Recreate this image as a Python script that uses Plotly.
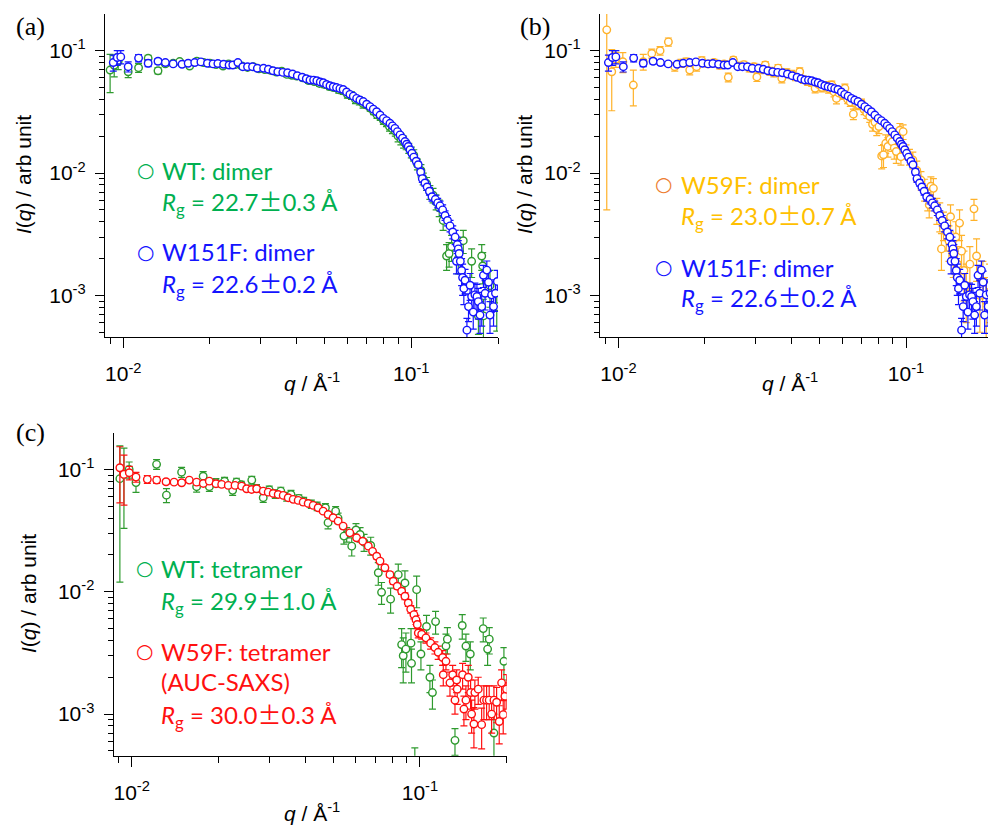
import math
import plotly.graph_objects as go

# ---------------- data ----------------
# (a)/(b) W151F dimer (blue)
q_w151f = [0.00923, 0.00953, 0.00980, 0.0104, 0.0113, 0.0122, 0.0132, 0.0140, 0.0149, 0.0160,
           0.0168, 0.0177, 0.0186, 0.0196, 0.0205, 0.0213, 0.0223, 0.0233, 0.0240, 0.0250,
           0.0260, 0.0270, 0.0281, 0.0292, 0.0307, 0.0319, 0.0331, 0.0344, 0.0358, 0.0372,
           0.0387, 0.0402, 0.0418, 0.0432, 0.0445, 0.0458, 0.0470, 0.0483, 0.0495, 0.0508,
           0.0522, 0.0536, 0.0550, 0.0565, 0.0580, 0.0596, 0.0612, 0.0629, 0.0646, 0.0663,
           0.0681, 0.0700, 0.0719, 0.0738, 0.0758, 0.0779, 0.0800, 0.0821, 0.0843, 0.0860,
           0.0877, 0.0895, 0.0914, 0.0932, 0.0951, 0.0964, 0.0976, 0.0990, 0.1005, 0.1020,
           0.1040, 0.1057, 0.1078, 0.1092, 0.1115, 0.1135, 0.1156, 0.1180, 0.1212, 0.1235,
           0.1258, 0.1285, 0.1310, 0.1336, 0.1363, 0.1393, 0.1420, 0.1435, 0.1445, 0.1456,
           0.1466, 0.1480, 0.1495, 0.1507, 0.1522, 0.1537, 0.1560, 0.1580, 0.1600, 0.1620,
           0.1641, 0.1663, 0.1690, 0.1708, 0.1732, 0.1756, 0.1780, 0.1804, 0.1829, 0.1854,
           0.1876, 0.1900, 0.1930, 0.1960, 0.1990]
I_w151f = [0.080, 0.088, 0.089, 0.074, 0.087, 0.079, 0.082, 0.080, 0.078, 0.0775,
           0.079, 0.080, 0.081, 0.079, 0.078, 0.0785, 0.0775, 0.0764, 0.0764, 0.080,
           0.074, 0.074, 0.074, 0.0718, 0.0718, 0.0705, 0.0686, 0.0673, 0.0665, 0.066,
           0.0645, 0.0625, 0.0607, 0.0590, 0.0576, 0.0575, 0.0568, 0.0555, 0.0547, 0.0530,
           0.0517, 0.0508, 0.0500, 0.0490, 0.0482, 0.0460, 0.0440, 0.0425, 0.0408, 0.0395,
           0.0384, 0.0365, 0.0349, 0.0333, 0.0317, 0.0298, 0.0280, 0.0268, 0.0255, 0.0243,
           0.0232, 0.0218, 0.0205, 0.0193, 0.0181, 0.0172, 0.0165, 0.0155, 0.0145, 0.0135,
           0.0125, 0.0117, 0.0102, 0.0090, 0.0083, 0.0077, 0.0071, 0.0064, 0.0061, 0.0057,
           0.0054, 0.0050, 0.0045, 0.0041, 0.0037, 0.0033, 0.0030, 0.0019, 0.0026, 0.0024,
           0.0022, 0.0019, 0.0016, 0.0014, 0.00114, 0.00133, 0.00052, 0.00081, 0.00121, 0.00098,
           0.00073, 0.00101, 0.00098, 0.00089, 0.00069, 0.00081, 0.00146, 0.00104, 0.00161, 0.00128,
           0.00069, 0.00101, 0.00081, 0.00104, 0.00130]
e_w151f = [0.012, 0.012, 0.011, 0.007, 0.006, 0.005, 0.004, 0.003, 0.003, 0.002,
           0.002, 0.002, 0.002, 0.002, 0.002, 0.002, 0.002, 0.002, 0.002, 0.002,
           0.002, 0.002, 0.002, 0.002, 0.002, 0.002, 0.002, 0.002, 0.002, 0.002,
           0.0015, 0.0015, 0.0015, 0.0015, 0.0015, 0.0015, 0.0015, 0.0015, 0.0015, 0.0015,
           0.0015, 0.0015, 0.0015, 0.0015, 0.0015, 0.0015, 0.0015, 0.0012, 0.0012, 0.0012,
           0.0012, 0.0012, 0.0012, 0.0012, 0.0012, 0.0010, 0.0010, 0.0010, 0.0010, 0.0010,
           0.0010, 0.0010, 0.0008, 0.0008, 0.0008, 0.0008, 0.0008, 0.0007, 0.0007, 0.0007,
           0.0007, 0.0006, 0.0006, 0.0006, 0.0005, 0.0005, 0.0005, 0.0005, 0.0005, 0.0005,
           0.0005, 0.0005, 0.0004, 0.0004, 0.0004, 0.0004, 0.0004, 0.0004, 0.0004, 0.0004,
           0.0004, 0.0004, 0.0004, 0.0004, 0.0003, 0.0003, 0.00013, 0.0002, 0.0003, 0.00025,
           0.0002, 0.00025, 0.00025, 0.00025, 0.0002, 0.00025, 0.0003, 0.00028, 0.0003, 0.0003,
           0.0002, 0.00028, 0.00025, 0.0003, 0.0003]

# (a) WT dimer (green)
q_wt_dimer = [0.0090, 0.0093, 0.0096, 0.0104, 0.0113, 0.0122, 0.0132, 0.0140, 0.0149, 0.0157,
              0.0170, 0.0180, 0.0190, 0.0200, 0.0210, 0.0222, 0.0232, 0.0245, 0.0258, 0.0270,
              0.0283, 0.0296, 0.0310, 0.0325, 0.0340, 0.0355, 0.0370, 0.0385, 0.0400, 0.0420,
              0.0440, 0.0460, 0.0480, 0.0500, 0.0520, 0.0540, 0.0560, 0.0580, 0.0600, 0.0620,
              0.0640, 0.0660, 0.0680, 0.0700, 0.0720, 0.0740, 0.0760, 0.0780, 0.0800, 0.0820,
              0.0840, 0.0860, 0.0880, 0.0900, 0.0920, 0.0940, 0.0960, 0.0980, 0.1000, 0.1020,
              0.1050, 0.1080, 0.1100, 0.1130, 0.1160, 0.1190, 0.1220, 0.1250, 0.1290, 0.1326,
              0.1353, 0.1380, 0.1456, 0.1515, 0.1620, 0.1710, 0.1756, 0.1770, 0.1780, 0.1876,
              0.1980]
I_wt_dimer = [0.0695, 0.076, 0.082, 0.0673, 0.0726, 0.0867, 0.0686, 0.078, 0.079, 0.0815,
              0.075, 0.082, 0.080, 0.079, 0.077, 0.075, 0.078, 0.077, 0.075, 0.073,
              0.074, 0.071, 0.070, 0.069, 0.067, 0.068, 0.064, 0.063, 0.062, 0.060,
              0.057, 0.056, 0.054, 0.053, 0.051, 0.050, 0.048, 0.047, 0.044, 0.043,
              0.040, 0.039, 0.037, 0.036, 0.034, 0.032, 0.030, 0.029, 0.027, 0.026,
              0.024, 0.023, 0.022, 0.020, 0.019, 0.018, 0.017, 0.016, 0.0148, 0.0140,
              0.0118, 0.0105, 0.0090, 0.0082, 0.0070, 0.0066, 0.0058, 0.0052, 0.0041, 0.0021,
              0.0022, 0.0025, 0.0020, 0.0028, 0.0019, 0.00068, 0.0021, 0.00174, 0.00068, 0.0012,
              0.00081]
e_wt_dimer = [0.024, 0.015, 0.012, 0.007, 0.006, 0.005, 0.004, 0.003, 0.003, 0.003,
              0.003, 0.003, 0.003, 0.003, 0.003, 0.003, 0.003, 0.003, 0.003, 0.003,
              0.003, 0.003, 0.003, 0.003, 0.003, 0.003, 0.003, 0.003, 0.003, 0.003,
              0.003, 0.003, 0.003, 0.003, 0.003, 0.003, 0.003, 0.003, 0.003, 0.003,
              0.003, 0.003, 0.003, 0.002, 0.002, 0.002, 0.002, 0.002, 0.002, 0.002,
              0.002, 0.002, 0.002, 0.002, 0.002, 0.002, 0.0015, 0.0015, 0.0015, 0.0015,
              0.0012, 0.0012, 0.0010, 0.0010, 0.0009, 0.0009, 0.0008, 0.0008, 0.0007, 0.0005,
              0.0005, 0.0006, 0.0005, 0.0006, 0.0005, 0.0002, 0.0005, 0.0005, 0.00025, 0.0004,
              0.0003]

# (b) W59F dimer (orange)
q_w59f_dimer = [0.00911, 0.00948, 0.0098, 0.01036, 0.01127, 0.0122, 0.01306, 0.01396, 0.01492, 0.0157,
                0.0165, 0.0172, 0.0177, 0.0187, 0.0195, 0.0205, 0.0215, 0.0225, 0.0233, 0.0241,
                0.0251, 0.0262, 0.0273, 0.0285, 0.0296, 0.0303, 0.0313, 0.0324, 0.0336, 0.0347,
                0.0359, 0.0370, 0.0385, 0.0400, 0.0413, 0.0427, 0.0440, 0.0455, 0.0470, 0.0483,
                0.0496, 0.0510, 0.0525, 0.0538, 0.0552, 0.0562, 0.0573, 0.0585, 0.0600, 0.0613,
                0.0627, 0.0640, 0.0656, 0.0670, 0.0685, 0.0700, 0.0715, 0.0730, 0.0748, 0.0765,
                0.0780, 0.0791, 0.0805, 0.0823, 0.0835, 0.0850, 0.0865, 0.0880, 0.0895, 0.0910,
                0.0925, 0.0952, 0.0960, 0.0977, 0.1000, 0.1028, 0.1056, 0.1090, 0.1127, 0.1160,
                0.1190, 0.1204, 0.1220, 0.1245, 0.1280, 0.1310, 0.1328, 0.1350, 0.1380, 0.1410,
                0.1428, 0.1460, 0.1490, 0.1510, 0.1535, 0.1560, 0.1590, 0.1620, 0.1667, 0.1723,
                0.1759, 0.1806, 0.1850, 0.1900, 0.1950]
I_w59f_dimer = [0.148, 0.0673, 0.085, 0.0813, 0.0524, 0.0813, 0.095, 0.100, 0.118, 0.074,
                0.079, 0.081, 0.0695, 0.074, 0.083, 0.078, 0.080, 0.076, 0.078, 0.0606,
                0.084, 0.075, 0.077, 0.072, 0.074, 0.061, 0.070, 0.0764, 0.068, 0.066,
                0.072, 0.0595, 0.066, 0.064, 0.062, 0.0673, 0.058, 0.056, 0.055, 0.0493,
                0.053, 0.050, 0.052, 0.049, 0.0524, 0.046, 0.0407, 0.045, 0.044, 0.0493,
                0.040, 0.038, 0.0303, 0.037, 0.036, 0.0372, 0.033, 0.031, 0.029, 0.025,
                0.026, 0.0232, 0.024, 0.0138, 0.0141, 0.0175, 0.0165, 0.0190, 0.0180, 0.0160,
                0.0150, 0.0224, 0.0136, 0.0218, 0.0150, 0.0136, 0.0128, 0.0105, 0.00877, 0.0074,
                0.0064, 0.0055, 0.0078, 0.0075, 0.0050, 0.0045, 0.0024, 0.0038, 0.0033, 0.0028,
                0.0044, 0.0022, 0.0030, 0.0018, 0.0039, 0.0023, 0.0016, 0.0012, 0.0018, 0.0051,
                0.0021, 0.0010, 0.0013, 0.0009, 0.0012]
e_w59f_dimer = [0.143, 0.035, 0.012, 0.015, 0.017, 0.012, 0.008, 0.008, 0.009, 0.006,
                0.006, 0.006, 0.006, 0.006, 0.006, 0.005, 0.005, 0.005, 0.005, 0.005,
                0.005, 0.005, 0.005, 0.005, 0.005, 0.005, 0.005, 0.005, 0.005, 0.005,
                0.005, 0.005, 0.005, 0.005, 0.005, 0.005, 0.004, 0.004, 0.004, 0.004,
                0.004, 0.004, 0.004, 0.004, 0.004, 0.004, 0.004, 0.004, 0.004, 0.004,
                0.003, 0.003, 0.003, 0.003, 0.003, 0.003, 0.003, 0.003, 0.003, 0.003,
                0.003, 0.003, 0.003, 0.003, 0.003, 0.003, 0.003, 0.003, 0.003, 0.003,
                0.003, 0.003, 0.002, 0.003, 0.002, 0.002, 0.002, 0.002, 0.0015, 0.0015,
                0.0015, 0.0012, 0.0015, 0.0015, 0.0012, 0.0012, 0.0008, 0.0010, 0.0010, 0.0009,
                0.0011, 0.0008, 0.0010, 0.0007, 0.0011, 0.0008, 0.0007, 0.0006, 0.0007, 0.0010,
                0.0008, 0.0005, 0.0006, 0.0005, 0.0006]

# (c) WT tetramer (green)
q_wt_tetra = [0.0091, 0.0094, 0.0098, 0.01035, 0.0122, 0.0132, 0.0149, 0.0168, 0.0177, 0.0186,
              0.0196, 0.0210, 0.0224, 0.0231, 0.0240, 0.0261, 0.0271, 0.0286, 0.0300, 0.0315,
              0.0329, 0.0345, 0.0357, 0.0380, 0.0395, 0.0420, 0.0440, 0.0470, 0.0480, 0.0510,
              0.0520, 0.0557, 0.0545, 0.0580, 0.0600, 0.0620, 0.0640, 0.0675, 0.0717, 0.0736,
              0.0791, 0.0841, 0.0887, 0.0974, 0.0864, 0.0875, 0.0894, 0.0931, 0.0935, 0.0960,
              0.1008, 0.1054, 0.1083, 0.1105, 0.1133, 0.1231, 0.1245, 0.1323, 0.1402, 0.1444,
              0.1495, 0.1658, 0.1717, 0.1740, 0.1806, 0.1956]
I_wt_tetra = [0.084, 0.091, 0.100, 0.078, 0.110, 0.0616, 0.095, 0.0722, 0.088, 0.0722,
              0.078, 0.080, 0.0674, 0.0787, 0.075, 0.0818, 0.070, 0.0587, 0.068, 0.063,
              0.0665, 0.060, 0.0624, 0.058, 0.055, 0.052, 0.050, 0.0486, 0.0367, 0.0456,
              0.040, 0.0294, 0.0285, 0.0236, 0.032, 0.0294, 0.0254, 0.0239, 0.0143, 0.0099,
              0.0087, 0.0138, 0.0118, 0.0104, 0.0037, 0.0030, 0.0034, 0.0038, 0.0026, 0.0003,
              0.0031, 0.0052, 0.0020, 0.0015, 0.0057, 0.0036, 0.0041, 0.00061, 0.0053, 0.0036,
              0.0031, 0.0050, 0.0034, 0.0041, 0.0007, 0.0027]
e_wt_tetra = [0.072, 0.058, 0.015, 0.013, 0.010, 0.008, 0.009, 0.007, 0.008, 0.006,
              0.006, 0.006, 0.006, 0.006, 0.005, 0.006, 0.005, 0.005, 0.005, 0.005,
              0.005, 0.005, 0.005, 0.004, 0.004, 0.004, 0.004, 0.004, 0.004, 0.004,
              0.004, 0.004, 0.004, 0.004, 0.004, 0.004, 0.004, 0.004, 0.003, 0.002,
              0.002, 0.003, 0.003, 0.003, 0.0013, 0.0012, 0.0012, 0.0012, 0.0008, 0.00023,
              0.0008, 0.0012, 0.0005, 0.0004, 0.0012, 0.0009, 0.0010, 0.00015, 0.0012, 0.0009,
              0.0008, 0.0011, 0.0009, 0.0010, 0.0003, 0.0008]

# (c) W59F tetramer, AUC-SAXS (red)
q_w59f_tetra = [0.0091, 0.0094, 0.00981, 0.01035, 0.01133, 0.01221, 0.01316, 0.01403, 0.01491, 0.01584,
                0.01680, 0.01772, 0.01859, 0.01961, 0.02052, 0.02163, 0.02283, 0.02407, 0.02505, 0.02607,
                0.02713, 0.02860, 0.02976, 0.03097, 0.03223, 0.03355, 0.03491, 0.03633, 0.03781, 0.03935,
                0.04095, 0.04262, 0.04435, 0.04615, 0.04803, 0.04999, 0.05202, 0.05414, 0.0571, 0.0603,
                0.0633, 0.0662, 0.0685, 0.0708, 0.0727, 0.0756, 0.0787, 0.0808, 0.0834, 0.0864,
                0.0887, 0.0911, 0.0929, 0.0953, 0.0969, 0.0979, 0.0987, 0.1014, 0.1049, 0.1089,
                0.1127, 0.1157, 0.1199, 0.1205, 0.1231, 0.1271, 0.1299, 0.1323, 0.1341, 0.1347,
                0.1406, 0.1421, 0.1444, 0.1471, 0.1499, 0.1511, 0.1539, 0.1551, 0.1593, 0.1637,
                0.1667, 0.1703, 0.1739, 0.1773, 0.1806, 0.1845, 0.1884, 0.1920, 0.1945, 0.1971,
                0.1998]
I_w59f_tetra = [0.1032, 0.0910, 0.0940, 0.0865, 0.0829, 0.0818, 0.0793, 0.0787, 0.0778, 0.0818,
                0.0787, 0.0768, 0.0802, 0.0764, 0.0754, 0.0740, 0.0740, 0.0730, 0.0695, 0.0686,
                0.0695, 0.0665, 0.0652, 0.0636, 0.0624, 0.0613, 0.0587, 0.0569, 0.0558, 0.0540,
                0.0527, 0.0508, 0.0486, 0.0456, 0.0428, 0.0403, 0.0378, 0.0344, 0.0303, 0.0276,
                0.0259, 0.0236, 0.0214, 0.0195, 0.0178, 0.0157, 0.0138, 0.0122, 0.0111, 0.0101,
                0.0092, 0.0081, 0.0072, 0.0065, 0.0059, 0.0054, 0.0046, 0.0045, 0.0042, 0.0038,
                0.0035, 0.0032, 0.0029, 0.0021, 0.0027, 0.0018, 0.0021, 0.0013, 0.0019, 0.0016,
                0.0021, 0.0011, 0.0013, 0.0020, 0.0015, 0.0010, 0.00083, 0.0015, 0.0016, 0.00082,
                0.0013, 0.0013, 0.0013, 0.0010, 0.0013, 0.00125, 0.00087, 0.0018, 0.00099, 0.0014,
                0.0016]
e_w59f_tetra = [0.050, 0.040, 0.012, 0.008, 0.006, 0.005, 0.003, 0.002, 0.002, 0.002,
                0.002, 0.002, 0.002, 0.002, 0.002, 0.002, 0.002, 0.002, 0.002, 0.002,
                0.002, 0.0015, 0.0015, 0.0015, 0.0015, 0.0015, 0.0015, 0.0015, 0.0015, 0.0015,
                0.0015, 0.0015, 0.0015, 0.0015, 0.0015, 0.0012, 0.0012, 0.0012, 0.0010, 0.0010,
                0.0010, 0.0010, 0.0009, 0.0009, 0.0008, 0.0008, 0.0007, 0.0007, 0.0006, 0.0006,
                0.0006, 0.0005, 0.0005, 0.0005, 0.0005, 0.0004, 0.0004, 0.0004, 0.0004, 0.0004,
                0.0004, 0.0004, 0.0004, 0.0004, 0.0004, 0.0004, 0.0004, 0.0003, 0.0004, 0.0004,
                0.0005, 0.0003, 0.0004, 0.0005, 0.0004, 0.0003, 0.0003, 0.0004, 0.0004, 0.0003,
                0.0004, 0.0004, 0.0004, 0.0003, 0.0004, 0.0004, 0.0003, 0.0005, 0.0003, 0.0004,
                0.0005]

x_tick_vals = [0.01, 0.1]
x_tick_text = ["10<sup>-2</sup>", "10<sup>-1</sup>"]
y_tick_vals = [0.001, 0.01, 0.1]
y_tick_text = ["10<sup>-3</sup>", "10<sup>-2</sup>", "10<sup>-1</sup>"]
x_minor_vals = [0.009, 0.02, 0.03, 0.04, 0.05, 0.06, 0.07, 0.08, 0.09, 0.2]
y_minor_vals = [0.0005, 0.0006, 0.0007, 0.0008, 0.0009,
                0.002, 0.003, 0.004, 0.005, 0.006, 0.007, 0.008, 0.009,
                0.02, 0.03, 0.04, 0.05, 0.06, 0.07, 0.08, 0.09, 0.2]

# ---------------- styling ----------------
W, H = 988, 825
GREEN_M = "#2E9A2E"
GREEN_T = "#00B050"
BLUE = "#1414FF"
ORANGE_M = "#FFB22A"
ORANGE_T = "#FFC000"
ORANGE_C = "#ED7D31"
RED = "#FF1010"
TICKFONT = dict(family="Liberation Sans, Arial, sans-serif", size=21, color="black")
LEGFONT = "Lato, 'Open Sans', sans-serif"


def fx(px):
    return px / W


def fy(py):
    return 1 - py / H


fig = go.Figure()


def add_series(q, I, e, color, xa, ya):
    fig.add_trace(go.Scatter(
        x=q, y=I, mode="markers", xaxis=xa, yaxis=ya, showlegend=False,
        marker=dict(symbol="circle", size=7.5, color="white",
                    line=dict(color=color, width=1.4)),
        error_y=dict(type="data", array=e, visible=True, color=color,
                     thickness=1.2, width=3.5),
    ))


add_series(q_wt_dimer, I_wt_dimer, e_wt_dimer, GREEN_M, "x", "y")
add_series(q_w151f, I_w151f, e_w151f, BLUE, "x", "y")
add_series(q_w59f_dimer, I_w59f_dimer, e_w59f_dimer, ORANGE_M, "x2", "y2")
add_series(q_w151f, I_w151f, e_w151f, BLUE, "x2", "y2")
add_series(q_wt_tetra, I_wt_tetra, e_wt_tetra, GREEN_M, "x3", "y3")
add_series(q_w59f_tetra, I_w59f_tetra, e_w59f_tetra, RED, "x3", "y3")


def xaxis(domain, rng, anchor):
    return dict(type="log", domain=domain, range=rng, anchor=anchor,
                showline=True, linecolor="black", linewidth=1.3,
                ticks="outside", ticklen=10, tickwidth=1.2, tickcolor="black",
                tickvals=x_tick_vals, ticktext=x_tick_text, tickfont=TICKFONT,
                ticklabelstandoff=8,
                minor=dict(ticks="outside", ticklen=6, tickwidth=1.1, tickcolor="black",
                           tickvals=x_minor_vals, showgrid=False),
                showgrid=False, zeroline=False, mirror=False)


def yaxis(domain, anchor):
    return dict(type="log", domain=domain, range=[-3.34, -0.70], anchor=anchor,
                showline=True, linecolor="black", linewidth=1.3,
                ticks="outside", ticklen=9, tickwidth=1.2, tickcolor="black",
                tickvals=y_tick_vals, ticktext=y_tick_text, tickfont=TICKFONT,
                ticklabelstandoff=5,
                minor=dict(ticks="outside", ticklen=5, tickwidth=1.1, tickcolor="black",
                           tickvals=y_minor_vals, showgrid=False),
                showgrid=False, zeroline=False, mirror=False)


xr = [math.log10(0.00864), math.log10(0.2)]
fig.update_layout(
    width=W, height=H, margin=dict(l=0, r=0, t=0, b=0),
    paper_bgcolor="white", plot_bgcolor="white",
    xaxis=xaxis([fx(105), fx(498)], xr, "y"),
    yaxis=yaxis([fy(337), fy(14)], "x"),
    xaxis2=xaxis([fx(600), 1.0], [-2.064, -0.715], "y2"),
    yaxis2=yaxis([fy(337), fy(14)], "x2"),
    xaxis3=xaxis([fx(113.7), fx(506.7)], [-2.0624, -0.699], "y3"),
    yaxis3=yaxis([fy(755.7), fy(432.7)], "x3"),
)

ann = []


def text(x, y, s, size, color="black", family=LEGFONT, xanchor="left", angle=0):
    ann.append(dict(x=fx(x), y=fy(y), xref="paper", yref="paper", text=s,
                    showarrow=False, xanchor=xanchor, yanchor="middle",
                    textangle=angle, font=dict(family=family, size=size, color=color)))


PM = "<span style='font-family:\"Noto Sans CJK JP\"'>±</span>"
RG = "<i>R</i><sub>g</sub> = "
LSZ = 24

# panel labels
SERIF = "Liberation Serif, 'Times New Roman', serif"
text(30, 27, "(a)", 26, family=SERIF, xanchor="center")
text(535, 27, "(b)", 26, family=SERIF, xanchor="center")
text(30, 432, "(c)", 26, family=SERIF, xanchor="center")

# axis titles
AX = "Liberation Sans, Arial, sans-serif"
YT = "<i>I</i>(<i>q</i>) / arb unit"
XT = "<i>q</i> / Å<sup>-1</sup>"
text(23, 175, YT, 21, family=AX, xanchor="center", angle=-90)
text(524, 175, YT, 21, family=AX, xanchor="center", angle=-90)
text(28, 594, YT, 21, family=AX, xanchor="center", angle=-90)
text(312, 382, XT, 21, family=AX, xanchor="center")
text(790, 382, XT, 21, family=AX, xanchor="center")
text(312, 812, XT, 21, family=AX, xanchor="center")

# legends (a)
text(145, 170, "○", 20, GREEN_T, family="DejaVu Sans", xanchor="center")
text(160, 170, "WT: dimer", LSZ, GREEN_T)
text(160, 201, RG + "22.7" + PM + "0.3 Å", LSZ, GREEN_T)
text(145, 252, "○", 20, BLUE, family="DejaVu Sans", xanchor="center")
text(160, 252, "W151F: dimer", LSZ, BLUE)
text(160, 283, RG + "22.6" + PM + "0.2 Å", LSZ, BLUE)

# legends (b)
text(663, 184, "○", 20, ORANGE_C, family="DejaVu Sans", xanchor="center")
text(679, 184, "W59F: dimer", LSZ, ORANGE_T)
text(679, 215, RG + "23.0" + PM + "0.7 Å", LSZ, ORANGE_T)
text(663, 267, "○", 20, BLUE, family="DejaVu Sans", xanchor="center")
text(679, 267, "W151F: dimer", LSZ, BLUE)
text(679, 297, RG + "22.6" + PM + "0.2 Å", LSZ, BLUE)

# legends (c)
text(144, 568, "○", 20, GREEN_T, family="DejaVu Sans", xanchor="center")
text(159, 568, "WT: tetramer", LSZ, GREEN_T)
text(159, 600, RG + "29.9" + PM + "1.0 Å", LSZ, GREEN_T)
text(144, 651, "○", 20, RED, family="DejaVu Sans", xanchor="center")
text(159, 651, "W59F: tetramer", LSZ, RED)
text(159, 681, "(AUC-SAXS)", LSZ, RED)
text(159, 714, RG + "30.0" + PM + "0.3 Å", LSZ, RED)

fig.update_layout(annotations=ann)
fig.write_html("out.html", config={"displayModeBar": False},
               post_script="document.body.style.margin='0';document.body.style.overflow='hidden';")
